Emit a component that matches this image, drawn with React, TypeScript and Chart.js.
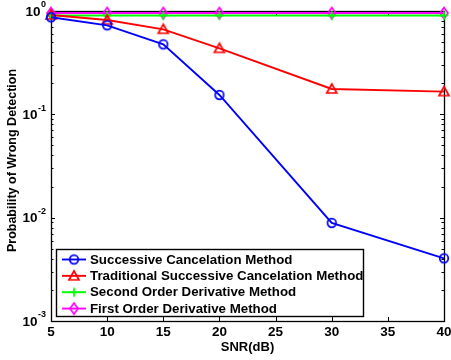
import React, { useEffect, useRef } from "react";
import { Chart, registerables } from "chart.js";

Chart.register(...registerables);

// ---- data ----
const snrDb = [5, 10, 15, 20, 30, 40];
const successiveCancel = [0.869, 0.727, 0.476, 0.154, 0.0089, 0.00404];
const traditionalCancel = [0.915, 0.818, 0.665, 0.435, 0.176, 0.166];
const secondOrderDeriv = [0.905, 0.905, 0.905, 0.905, 0.905, 0.905];
const firstOrderDeriv = [0.955, 0.955, 0.955, 0.955, 0.955, 0.955];
const seriesLabels = [
  "Successive Cancelation Method",
  "Traditional Successive Cancelation Method",
  "Second Order Derivative Method",
  "First Order Derivative Method",
];
const xTickValues = [5, 10, 15, 20, 25, 30, 35, 40];
const yTickExponents = [-3, -2, -1, 0];
const xAxisTitle = "SNR(dB)";
const yAxisTitle = "Probability of Wrong Detection";

const FONT = '"Liberation Sans", Arial, Helvetica, sans-serif';

type MarkerKind = "circle" | "triangle" | "plus" | "diamond";

function makeMarker(kind: MarkerKind, color: string): HTMLCanvasElement {
  const c = document.createElement("canvas");
  const size = 14;
  c.width = size;
  c.height = size;
  const g = c.getContext("2d")!;
  const cx = size / 2;
  const cy = size / 2;
  g.strokeStyle = color;
  g.lineWidth = 1.7;
  g.beginPath();
  if (kind === "circle") {
    g.arc(cx, cy, 4.3, 0, Math.PI * 2);
  } else if (kind === "triangle") {
    g.moveTo(cx, cy - 5);
    g.lineTo(cx + 5, cy + 4);
    g.lineTo(cx - 5, cy + 4);
    g.closePath();
  } else if (kind === "plus") {
    g.moveTo(cx - 4.5, cy);
    g.lineTo(cx + 4.5, cy);
    g.moveTo(cx, cy - 4.5);
    g.lineTo(cx, cy + 4.5);
  } else {
    g.moveTo(cx, cy - 5.5);
    g.lineTo(cx + 4, cy);
    g.lineTo(cx, cy + 5.5);
    g.lineTo(cx - 4, cy);
    g.closePath();
  }
  g.stroke();
  return c;
}

const seriesColors = ["#0000ff", "#ff0000", "#00ff00", "#ff00ff"];
const seriesMarkers: MarkerKind[] = ["circle", "triangle", "plus", "diamond"];
const seriesValues = [successiveCancel, traditionalCancel, secondOrderDeriv, firstOrderDeriv];

const matlabPlugin = {
  id: "matlabAxes",
  beforeDatasetsDraw(chart: any) {
    const { ctx, chartArea, scales } = chart;
    const { left, right, top, bottom } = chartArea;
    const x = scales.x;
    const y = scales.y;
    ctx.save();
    ctx.strokeStyle = "#000";
    ctx.lineWidth = 1;
    ctx.beginPath();
    for (const v of xTickValues) {
      const px = Math.round(x.getPixelForValue(v)) + 0.5;
      ctx.moveTo(px, bottom);
      ctx.lineTo(px, bottom - 4);
      ctx.moveTo(px, top);
      ctx.lineTo(px, top + 4);
    }
    for (const e of yTickExponents) {
      const py = Math.round(y.getPixelForValue(Math.pow(10, e))) + 0.5;
      ctx.moveTo(left, py);
      ctx.lineTo(left + 4, py);
      ctx.moveTo(right, py);
      ctx.lineTo(right - 4, py);
      if (e < 0) {
        for (let m = 2; m <= 9; m++) {
          const pm = Math.round(y.getPixelForValue(m * Math.pow(10, e))) + 0.5;
          ctx.moveTo(left, pm);
          ctx.lineTo(left + 2.5, pm);
          ctx.moveTo(right, pm);
          ctx.lineTo(right - 2.5, pm);
        }
      }
    }
    ctx.stroke();
    ctx.lineWidth = 1.3;
    ctx.strokeRect(Math.round(left) + 0.5, Math.round(top) + 0.5, Math.round(right - left), Math.round(bottom - top));
    ctx.restore();
  },
  afterDraw(chart: any) {
    const { ctx, chartArea, scales } = chart;
    const { left, right, top, bottom } = chartArea;
    const x = scales.x;
    const y = scales.y;
    ctx.save();
    ctx.fillStyle = "#000";
    ctx.font = `bold 13.5px ${FONT}`;
    ctx.textAlign = "center";
    ctx.textBaseline = "middle";
    for (const v of xTickValues) {
      ctx.fillText(String(v), x.getPixelForValue(v), bottom + 11);
    }
    for (const e of yTickExponents) {
      const py = y.getPixelForValue(Math.pow(10, e));
      const sup = e === 0 ? "0" : "-" + String(-e);
      ctx.font = `bold 9px ${FONT}`;
      const supW = ctx.measureText(sup).width;
      const supRight = left - 5;
      ctx.textAlign = "right";
      ctx.textBaseline = "middle";
      ctx.fillText(sup, supRight, py - 6);
      ctx.font = `bold 13.5px ${FONT}`;
      ctx.fillText("10", supRight - supW - 0.5, py + 1);
    }
    ctx.font = `bold 13px ${FONT}`;
    ctx.textAlign = "center";
    ctx.textBaseline = "middle";
    ctx.fillText(xAxisTitle, (left + right) / 2, bottom + 26);
    ctx.save();
    ctx.translate(13, 160.5);
    ctx.rotate(-Math.PI / 2);
    ctx.font = `bold 12.5px ${FONT}`;
    ctx.fillText(yAxisTitle, 0, 0);
    ctx.restore();

    // legend
    const lx = 56.5;
    const ly = 249.5;
    const lw = 307;
    const lh = 67;
    ctx.fillStyle = "#fff";
    ctx.fillRect(lx, ly, lw, lh);
    ctx.strokeStyle = "#000";
    ctx.lineWidth = 1.4;
    ctx.strokeRect(lx, ly, lw, lh);
    const datasets = chart.data.datasets;
    ctx.font = `bold 13.3px ${FONT}`;
    ctx.textAlign = "left";
    ctx.textBaseline = "middle";
    datasets.forEach((ds: any, i: number) => {
      const ry = 259.5 + i * 16.35;
      ctx.strokeStyle = ds.borderColor;
      ctx.lineWidth = 1.9;
      ctx.beginPath();
      ctx.moveTo(62, ry);
      ctx.lineTo(86, ry);
      ctx.stroke();
      const img = ds.pointStyle as HTMLCanvasElement;
      ctx.drawImage(img, 74 - img.width / 2, ry - img.height / 2);
      ctx.fillStyle = "#000";
      ctx.fillText(ds.label, 90, ry + 0.5);
    });
    ctx.restore();
  },
};

export default function App() {
  const ref = useRef<HTMLCanvasElement | null>(null);
  useEffect(() => {
    if (!ref.current) return;
    const datasets = seriesValues.map((vals, i) => ({
      label: seriesLabels[i],
      data: snrDb.map((s, j) => ({ x: s, y: vals[j] })),
      borderColor: seriesColors[i],
      backgroundColor: seriesColors[i],
      borderWidth: 1.9,
      pointStyle: makeMarker(seriesMarkers[i], seriesColors[i]),
      pointRadius: 5,
      pointHoverRadius: 5,
      tension: 0,
      fill: false,
      clip: false as any,
    }));
    const chart = new Chart(ref.current, {
      type: "line",
      data: { datasets },
      options: {
        animation: false,
        responsive: false,
        devicePixelRatio: 1,
        layout: { padding: { left: 51, right: 7, top: 11, bottom: 39 } },
        scales: {
          x: { type: "linear", min: 5, max: 40, display: false },
          y: { type: "logarithmic", min: 0.001, max: 1, display: false },
        },
        plugins: {
          legend: { display: false },
          tooltip: { enabled: false },
        },
        events: [],
      },
      plugins: [matlabPlugin],
    });
    return () => chart.destroy();
  }, []);
  return (
    <div style={{ position: "absolute", left: 0, top: 0, width: 451, height: 360, background: "#fff" }}>
      <canvas ref={ref} width={451} height={360} style={{ display: "block" }} />
    </div>
  );
}
